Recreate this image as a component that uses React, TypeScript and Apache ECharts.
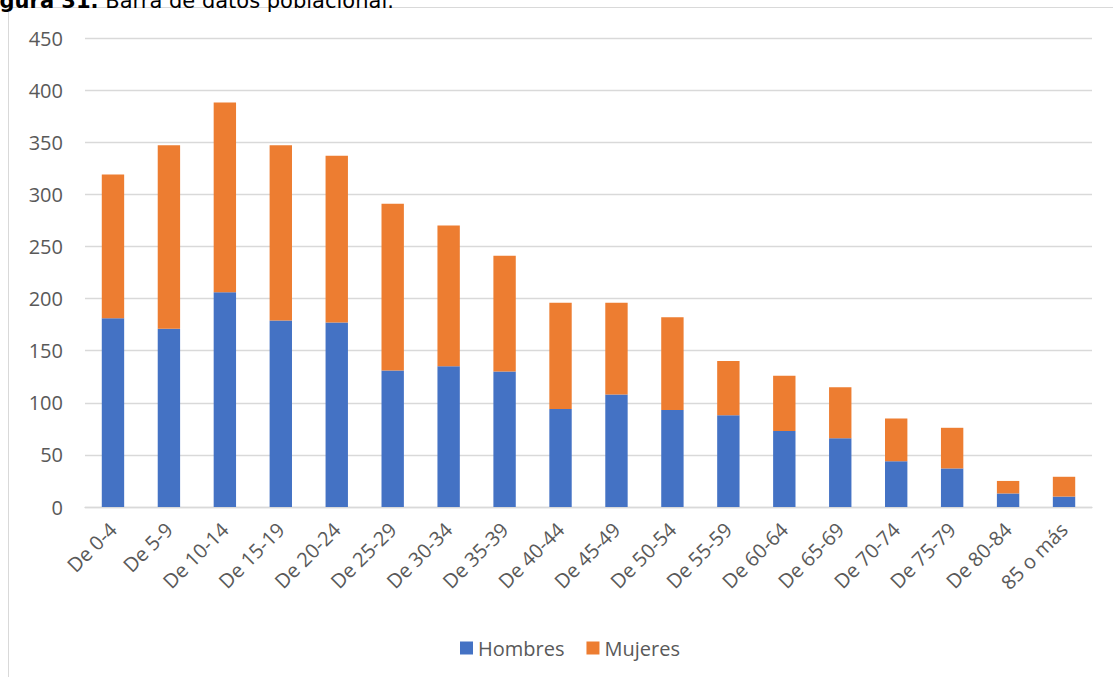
import React, { useEffect, useRef } from "react";
import * as echarts from "echarts";

const categories = [
  "De 0-4", "De 5-9", "De 10-14", "De 15-19", "De 20-24", "De 25-29",
  "De 30-34", "De 35-39", "De 40-44", "De 45-49", "De 50-54", "De 55-59",
  "De 60-64", "De 65-69", "De 70-74", "De 75-79", "De 80-84", "85 o más",
];
const hombres = [181, 171, 206, 179, 177, 131, 135, 130, 94, 108, 93, 88, 73, 66, 44, 37, 13, 10];
const mujeres = [138, 176, 182, 168, 160, 160, 135, 111, 102, 88, 89, 52, 53, 49, 41, 39, 12, 19];
const yTicks = { min: 0, max: 450, interval: 50 };
const titleBold = "Figura 31.";
const titleRest = " Barra de datos poblacional.";

export default function App() {
  const ref = useRef<HTMLDivElement>(null);
  useEffect(() => {
    if (!ref.current) return;
    const chart = echarts.init(ref.current, undefined, { renderer: "svg" });
    const labelColor = "#595959";
    const font = "'Open Sans', 'Liberation Sans', sans-serif";
    chart.setOption({
      animation: false,
      backgroundColor: "#ffffff",
      textStyle: { fontFamily: font },
      grid: { left: 85, right: 21, top: 38, bottom: 170, containLabel: false },
      legend: {
        data: ["Hombres", "Mujeres"],
        left: 455,
        top: 633,
        itemWidth: 13,
        itemHeight: 13,
        itemGap: 22,
        icon: "rect",
        textStyle: { fontSize: 20, color: labelColor, fontFamily: font },
      },
      xAxis: {
        type: "category",
        data: categories,
        axisLine: { lineStyle: { color: "#d9d9d9", width: 1.3 } },
        axisTick: { show: false },
        axisLabel: {
          interval: 0,
          rotate: 45,
          fontSize: 20,
          color: labelColor,
          margin: 19,
          fontFamily: font,
        },
      },
      yAxis: {
        type: "value",
        min: yTicks.min,
        max: yTicks.max,
        interval: yTicks.interval,
        axisLine: { show: false },
        axisTick: { show: false },
        axisLabel: { fontSize: 20, color: labelColor, margin: 22, fontFamily: font },
        splitLine: { lineStyle: { color: "#d9d9d9", width: 1.3 } },
      },
      series: [
        {
          name: "Hombres",
          type: "bar",
          stack: "total",
          barWidth: "40%",
          data: hombres,
          itemStyle: { color: "#4472C4" },
        },
        {
          name: "Mujeres",
          type: "bar",
          stack: "total",
          barWidth: "40%",
          data: mujeres,
          itemStyle: { color: "#ED7D31" },
        },
      ],
      graphic: [
        {
          type: "rect",
          shape: { x: 8.5, y: 7.5, width: 1200, height: 800 },
          style: { fill: "none", stroke: "#d9d9d9", lineWidth: 1 },
          silent: true,
        },
        {
          type: "text",
          x: -22,
          y: 11,
          style: {
            text: "{b|" + titleBold + "}{n|" + titleRest + "}",
            verticalAlign: "bottom",
            rich: {
              b: { fontSize: 21, fontWeight: "bold", fill: "#000", fontFamily: "'DejaVu Sans', sans-serif" },
              n: { fontSize: 21, fill: "#000", fontFamily: "'DejaVu Sans', sans-serif" },
            },
          },
          silent: true,
        },
      ],
    });
    return () => chart.dispose();
  }, []);
  return (
    <div
      ref={ref}
      style={{ position: "fixed", left: 0, top: 0, width: 1113, height: 677 }}
    />
  );
}
